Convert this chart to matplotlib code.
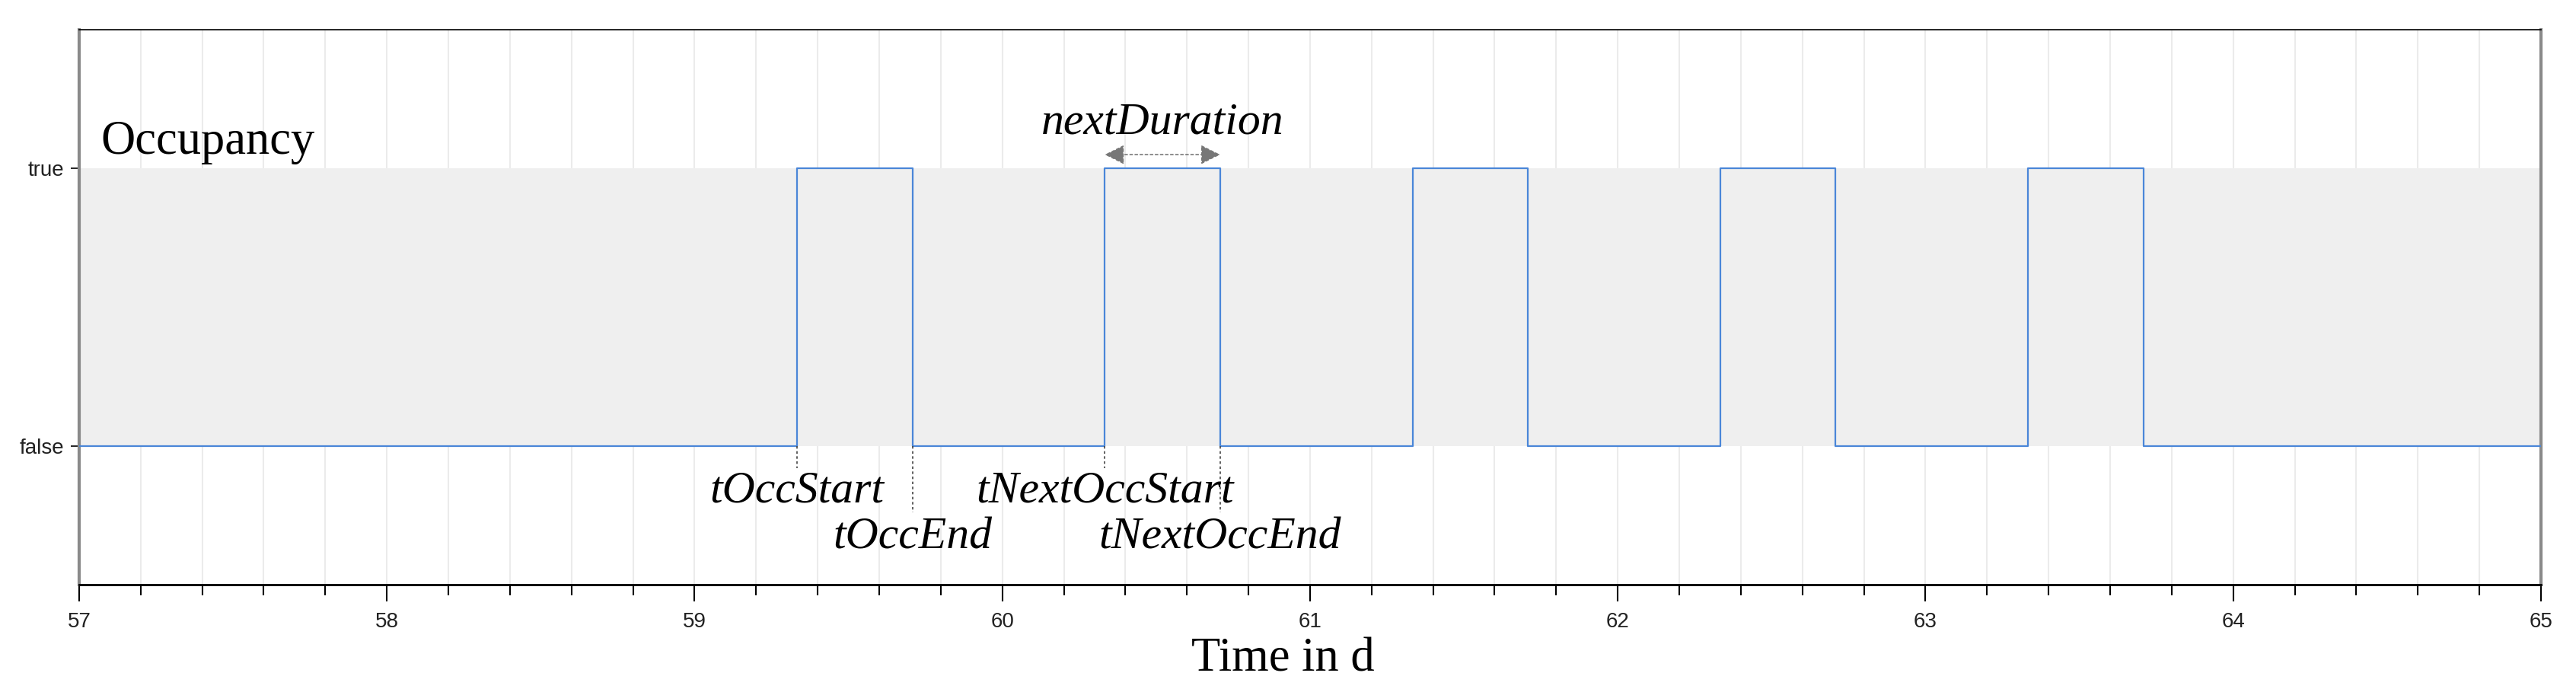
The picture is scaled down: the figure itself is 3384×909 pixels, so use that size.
import numpy as np
import matplotlib.pyplot as plt
from matplotlib.ticker import MultipleLocator

# occupancy switch times in days
t_on = [59.333, 60.333, 61.333, 62.333, 63.333]
t_off = [59.708, 60.708, 61.708, 62.708, 63.708]
t_range = [57, 65]
y_labels = ['false', 'true']

# annotated events: (time, label, row)
events = [(59.333, 'tOccStart', 0), (59.708, 'tOccEnd', 1),
          (60.333, 'tNextOccStart', 0), (60.708, 'tNextOccEnd', 1)]
duration = (60.333, 60.708, 'nextDuration')

# build the step signal
t = [t_range[0]]
y = [0]
for a, b in zip(t_on, t_off):
    t += [a, a, b, b]
    y += [0, 1, 1, 0]
t.append(t_range[1])
y.append(0)

SERIF = ['Liberation Serif', 'DejaVu Serif']
TICKFONT = ['Liberation Sans Narrow', 'Liberation Sans', 'DejaVu Sans']

fig = plt.figure(figsize=(33.84, 9.09), dpi=100)
ax = fig.add_axes([0.0307, 0.155, 0.9557, 0.802])

ax.axhspan(0, 1, color='#efefef', zorder=1, lw=0)
ax.plot(t, y, color='#4a86d8', lw=1.6, zorder=3)

ax.set_xlim(*t_range)
ax.set_ylim(-0.5, 1.5)
ax.xaxis.set_major_locator(MultipleLocator(1))
ax.xaxis.set_minor_locator(MultipleLocator(0.2))
ax.grid(which='both', axis='x', color='#ebebeb', lw=1.5, zorder=0)
ax.set_axisbelow(True)
ax.set_yticks([0, 1])
ax.set_yticklabels(y_labels)

ax.tick_params(axis='x', which='major', length=16, width=1.5, direction='out', pad=10)
ax.tick_params(axis='x', which='minor', length=10, width=1.5, direction='out')
ax.tick_params(axis='y', length=8, width=1.2, pad=6)
for lab in ax.get_xticklabels() + ax.get_yticklabels():
    lab.set_family(TICKFONT)
    lab.set_fontsize(20)
    lab.set_color('#222222')

for side in ['left', 'right']:
    ax.spines[side].set_color('#8a8a8a')
    ax.spines[side].set_linewidth(3)
ax.spines['bottom'].set_linewidth(2)
ax.spines['top'].set_linewidth(1.2)

# labels
ax.text(57.07, 1.095, 'Occupancy', family=SERIF, fontsize=45, va='center', ha='left', zorder=5)
ax.set_xlabel('Time in d', family=SERIF, fontsize=45, labelpad=2)
ax.xaxis.set_label_coords(0.489, -0.095)

for x, lab, row in events:
    y_end = -0.08 if row == 0 else -0.24
    y_txt = -0.165 if row == 0 else -0.33
    ax.plot([x, x], [0, y_end], color='#444444', ls=(0, (2, 2)), lw=1.2, zorder=4)
    ax.text(x, y_txt, lab, family=SERIF, style='italic', fontsize=43,
            ha='center', va='center', zorder=5)

x0, x1, lab = duration
ax.annotate('', xy=(x0, 1.05), xytext=(x1, 1.05),
            arrowprops=dict(arrowstyle='<|-|>', color='#777777', lw=1.2, ls=(0, (2, 2)),
                            mutation_scale=40, shrinkA=0, shrinkB=0))
ax.text((x0 + x1) / 2, 1.165, lab, family=SERIF, style='italic', fontsize=43,
        ha='center', va='center')

fig.savefig('out.png', dpi=100)
